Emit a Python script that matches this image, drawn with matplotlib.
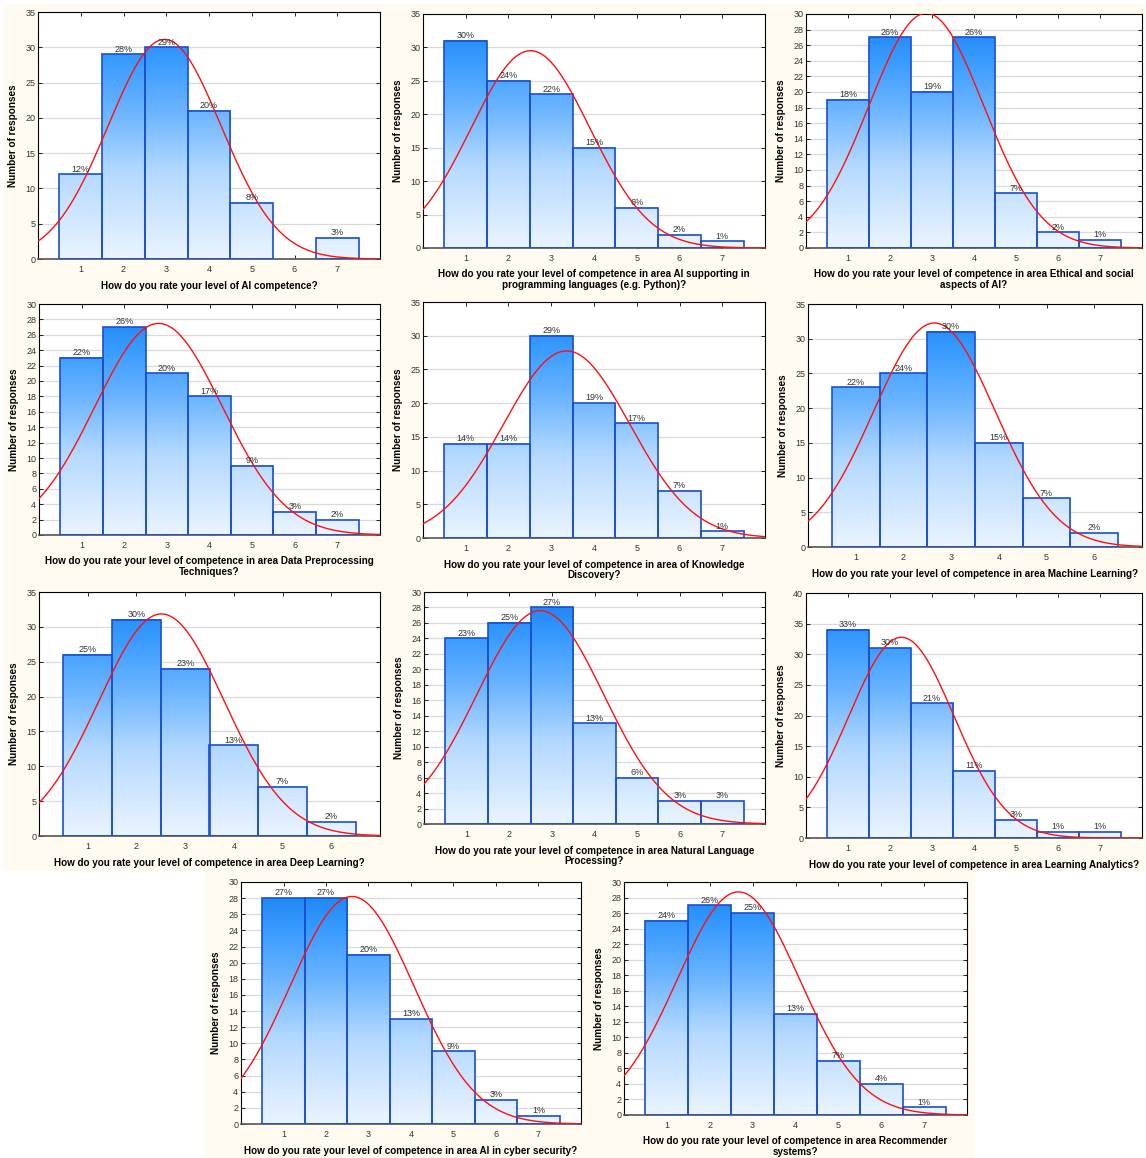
import numpy as np
import matplotlib.pyplot as plt
from matplotlib.colors import LinearSegmentedColormap
from matplotlib.patches import Rectangle

plt.rcParams['font.family'] = ['Liberation Sans', 'DejaVu Sans']

W, H = 1146, 1158

questions = [
    "How do you rate your level of AI competence?",
    "How do you rate your level of competence in area AI supporting in\nprogramming languages (e.g. Python)?",
    "How do you rate your level of competence in area Ethical and social\naspects of AI?",
    "How do you rate your level of competence in area Data Preprocessing\nTechniques?",
    "How do you rate your level of competence in area of Knowledge\nDiscovery?",
    "How do you rate your level of competence in area Machine Learning?",
    "How do you rate your level of competence in area Deep Learning?",
    "How do you rate your level of competence in area Natural Language\nProcessing?",
    "How do you rate your level of competence in area Learning Analytics?",
    "How do you rate your level of competence in area AI in cyber security?",
    "How do you rate your level of competence in area Recommender\nsystems?",
]

counts_ai        = [12, 29, 30, 21, 8, 0, 3]
counts_python    = [31, 25, 23, 15, 6, 2, 1]
counts_ethics    = [19, 27, 20, 27, 7, 2, 1]
counts_preproc   = [23, 27, 21, 18, 9, 3, 2]
counts_knowledge = [14, 14, 30, 20, 17, 7, 1]
counts_ml        = [23, 25, 31, 15, 7, 2]
counts_dl        = [26, 31, 24, 13, 7, 2]
counts_nlp       = [24, 26, 28, 13, 6, 3, 3]
counts_analytics = [34, 31, 22, 11, 3, 1, 1]
counts_cyber     = [28, 28, 21, 13, 9, 3, 1]
counts_recsys    = [25, 27, 26, 13, 7, 4, 1]

all_counts = [counts_ai, counts_python, counts_ethics, counts_preproc, counts_knowledge,
              counts_ml, counts_dl, counts_nlp, counts_analytics, counts_cyber, counts_recsys]
y_top  = [35, 35, 30, 30, 35, 35, 35, 30, 40, 30, 30]
y_step = [5, 5, 2, 2, 5, 5, 5, 2, 5, 2, 2]

# axes boxes in pixels: left, top, right, bottom
boxes = [
    (38, 12, 380, 259), (423, 14, 765, 248), (806, 14, 1142, 248),
    (39, 304, 380, 535), (423, 302, 765, 538), (808, 304, 1142, 547),
    (39, 592, 380, 836), (424, 592, 765, 824), (806, 593, 1142, 838),
    (241, 882, 581, 1124), (624, 882, 967, 1115),
]

cmap = LinearSegmentedColormap.from_list(
    'bars', [(0.0, '#eaf4ff'), (0.35, '#b4d9ff'), (0.6, '#6ab4ff'),
             (0.8, '#3a9cff'), (1.0, '#1580f0')])

fig = plt.figure(figsize=(W / 100, H / 100), dpi=100, facecolor='white')
cream = '#fffbf0'
fig.patches.append(Rectangle((4 / W, 1 - 871 / H), (W - 4) / W, 867 / H,
                             transform=fig.transFigure, facecolor=cream, edgecolor='none', zorder=-10))
fig.patches.append(Rectangle((205 / W, 0), (975 - 205) / W, (H - 871) / H,
                             transform=fig.transFigure, facecolor=cream, edgecolor='none', zorder=-10))

for counts, q, top, step, (l, t, r, b) in zip(all_counts, questions, y_top, y_step, boxes):
    ax = fig.add_axes([l / W, 1 - b / H, (r - l) / W, (b - t) / H])
    ax.set_facecolor('white')
    counts = np.array(counts)
    cats = np.arange(1, len(counts) + 1)
    n = counts.sum()

    for x, c in zip(cats, counts):
        if c == 0:
            continue
        grad = np.linspace(0, c, 200).reshape(-1, 1)
        ax.imshow(grad, extent=[x - 0.5, x + 0.5, 0, c], origin='lower', cmap=cmap,
                  vmin=0, vmax=top, aspect='auto', zorder=2)
        ax.bar(x, c, width=1.0, facecolor='none', edgecolor='#1a4fd0', linewidth=1.2, zorder=3)
        ax.text(x, c + top * 0.003, f"{round(100 * c / n)}%", ha='center', va='bottom',
                fontsize=6.5, color='#333333', zorder=5)

    # fitted normal curve
    values = np.repeat(cats, counts)
    mu, sd = values.mean(), values.std(ddof=1)
    xs = np.linspace(0, len(counts) + 1, 400)
    ys = n / (sd * np.sqrt(2 * np.pi)) * np.exp(-0.5 * ((xs - mu) / sd) ** 2)
    ax.plot(xs, ys, color='#ff1010', linewidth=1.0, zorder=4)

    ax.set_xlim(0, len(counts) + 1)
    ax.set_ylim(0, top)
    ax.set_xticks(cats)
    ax.set_yticks(np.arange(0, top + 1, step))
    ax.yaxis.grid(True, color='#d9d9d9', linewidth=0.9)
    ax.set_axisbelow(True)
    ax.tick_params(axis='both', direction='in', length=3, top=True, right=True,
                   labelsize=6.5, labelcolor='#333333', width=0.6)
    ax.tick_params(axis='x', pad=4)
    ax.tick_params(axis='y', pad=2)
    for s in ax.spines.values():
        s.set_color('black')
        s.set_linewidth(0.8)
    ax.spines['bottom'].set_color('#555555')
    ax.spines['bottom'].set_linewidth(1.2)
    ax.set_xlabel(q, fontsize=7.1, fontweight='bold', labelpad=5, linespacing=1.1)
    ax.set_ylabel('Number of responses', fontsize=7.2, fontweight='bold', labelpad=5)

fig.savefig('out.png', dpi=100, facecolor=fig.get_facecolor())
